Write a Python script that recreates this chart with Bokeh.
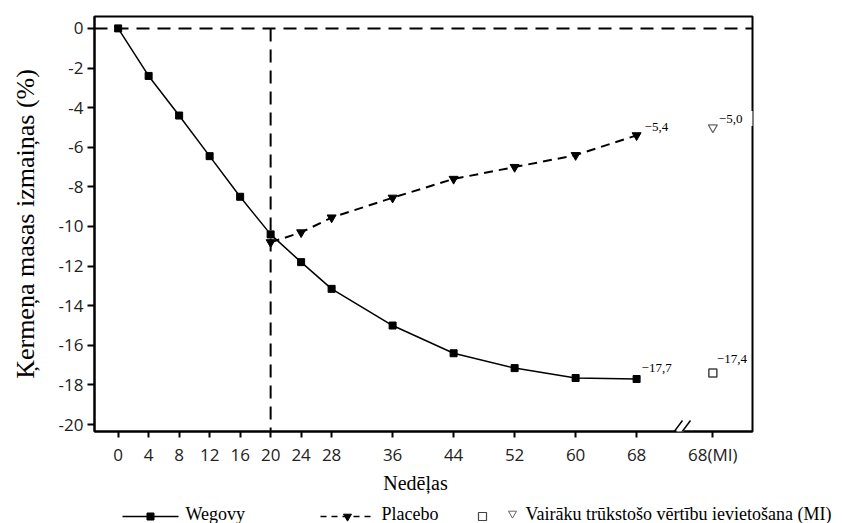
from bokeh.plotting import figure
from bokeh.models import FixedTicker, Label, Arrow, Range1d, Span
from bokeh.layouts import column
from bokeh.embed import file_html
from bokeh.resources import INLINE
from bokeh.core.properties import value

# ---- data ----
weeks = [0, 4, 8, 12, 16, 20, 24, 28, 36, 44, 52, 60, 68]
wegovy = [0, -2.4, -4.4, -6.45, -8.5, -10.4, -11.8, -13.15, -15.0, -16.4, -17.15, -17.65, -17.7]
placebo_weeks = [20, 24, 28, 36, 44, 52, 60, 68]
placebo = [-10.8, -10.3, -9.55, -8.55, -7.6, -7.0, -6.4, -5.4]
mi_pos = 78            # x position of the "68 (MI)" column
mi_wegovy = -17.4
mi_placebo = -5.0
x_ticks = [0, 4, 8, 12, 16, 20, 24, 28, 36, 44, 52, 60, 68, 78]
x_tick_labels = ["0", "4", "8", "12", "16", "20", "24", "28", "36", "44", "52", "60", "68", "68(MI)"]
y_ticks = [0, -2, -4, -6, -8, -10, -12, -14, -16, -18, -20]
switch_week = 20
x_title = "Nedēļas"
y_title = "Ķermeņa masas izmaiņas (%)"
legend_labels = ["Wegovy", "Placebo", "Vairāku trūkstošo vērtību ievietošana (MI)"]

SERIF = "Liberation Serif"
SANS = "Open Sans"

def fmt(v):
    return "\u2212" + ("%.1f" % abs(v)).replace(".", ",")

x_lo, x_hi = -3.1, 83.2
y_lo, y_hi = -20.35, 0.6
FL, FR, FT, FB = 94, 752, 16, 431   # frame box in pixels
H_MAIN = 472

def px2x(px):
    return x_lo + (px - FL) * (x_hi - x_lo) / (FR - FL)

def py2y(py):
    return y_lo - (py - FB) * (y_hi - y_lo) / (FB - FT)

p = figure(width=842, height=H_MAIN, x_range=Range1d(x_lo, x_hi), y_range=Range1d(y_lo, y_hi),
           output_backend="svg", toolbar_location=None,
           min_border_left=FL, min_border_right=842 - FR, min_border_top=FT,
           min_border_bottom=H_MAIN - FB)
p.frame_align = False
p.grid.visible = False
p.outline_line_color = "black"
p.outline_line_width = 2
p.background_fill_color = "white"
p.border_fill_color = "white"

# axes
p.xaxis.ticker = FixedTicker(ticks=x_ticks)
p.xaxis.major_label_overrides = dict(zip(x_ticks, x_tick_labels))
p.yaxis.ticker = FixedTicker(ticks=y_ticks)
p.yaxis.major_label_overrides = {t: str(t) for t in y_ticks}
for ax in (p.xaxis, p.yaxis):
    ax.axis_line_width = 2
    ax.axis_line_color = "black"
    ax.major_tick_line_width = 2
    ax.major_tick_in = 0
    ax.minor_tick_line_color = None
    ax.major_label_text_font = SANS
    ax.major_label_text_font_size = "17px"
    ax.major_label_text_color = "#222222"
    ax.axis_label_text_font = SERIF
    ax.axis_label_text_font_style = "normal"
    ax.axis_label_text_color = "black"
p.xaxis.major_tick_out = 6
p.yaxis.major_tick_out = 7
p.xaxis.major_label_standoff = 5
p.yaxis.major_label_standoff = 4
p.yaxis.axis_label = y_title
p.yaxis.axis_label_text_font_size = "26px"
p.yaxis.axis_label_standoff = 16

# reference lines
p.add_layout(Span(location=0, dimension="width", line_color="black", line_width=2, line_dash="13 8"))
p.line([switch_week, switch_week], [0, y_lo], line_color="black", line_width=2, line_dash="13 8")

# series
p.line(weeks, wegovy, line_color="black", line_width=1.5)
p.scatter(weeks, wegovy, marker="square", size=7, color="black")
p.line(placebo_weeks, placebo, line_color="black", line_width=2, line_dash="9 6")
p.scatter(placebo_weeks, placebo, marker="inverted_triangle", size=9, color="black")
p.scatter([mi_pos], [mi_wegovy], marker="square", size=8, fill_color="white",
          line_color="#444444", line_width=1.5)
p.scatter([mi_pos], [mi_placebo], marker="inverted_triangle", size=9, fill_color="white",
          line_color="#666666", line_width=1.2)

def lab(x, y, txt, dx=0, dy=0, bg=None):
    l = Label(x=x, y=y, text=txt, x_offset=dx, y_offset=dy, text_font=SERIF,
              text_font_size="13px", text_baseline="middle", text_align="left",
              text_color="black", level="overlay")
    if bg:
        l.background_fill_color = bg
    p.add_layout(l)

# value labels
lab(weeks[-1], wegovy[-1], fmt(wegovy[-1]), 5, 11)
lab(mi_pos, mi_wegovy, fmt(mi_wegovy), 4, 14)
lab(placebo_weeks[-1], placebo[-1], fmt(placebo[-1]), 8, 8)
lab(mi_pos, mi_placebo, fmt(mi_placebo) + "    ", 6, 9, bg="white")

# axis break marks
def seg(px0, py0, px1, py1, color="black", width=1.5):
    p.add_layout(Arrow(end=None, x_start=px2x(px0), y_start=py2y(py0), x_end=px2x(px1),
                       y_end=py2y(py1), line_color=color, line_width=width, level="overlay"))

seg(676, FB, 683, FB, color="white", width=4)
seg(667, 440, 682, 420)
seg(675, 440, 690, 420)

# ---- bottom strip: x title + legend (pixel coordinates) ----
LH = 523 - H_MAIN
leg = figure(width=842, height=LH, x_range=Range1d(0, 842), y_range=Range1d(LH, 0),
             x_axis_type=None, y_axis_type=None, output_backend="svg", toolbar_location=None,
             min_border=0, outline_line_color=None)
leg.frame_align = False
leg.grid.visible = False
leg.text([415], [482 - H_MAIN], text=[x_title], text_font=value(SERIF), text_font_size="20px",
         text_baseline="middle", text_align="center", text_color="black")
ly = 516 - H_MAIN
tb = 513 - H_MAIN
leg.line([122, 178], [ly, ly], line_color="black", line_width=1.5)
leg.scatter([150], [ly], marker="square", size=7, color="black")
leg.line([320, 375], [ly, ly], line_color="black", line_width=1.5, line_dash="6 5")
leg.scatter([347], [ly], marker="inverted_triangle", size=8, color="black")
leg.scatter([482], [ly], marker="square", size=8, fill_color="white", line_color="#444444", line_width=1.2)
leg.scatter([512], [ly - 3], marker="inverted_triangle", size=8, fill_color="white",
            line_color="#666666", line_width=1)
leg.text([185, 381, 525], [tb, tb, tb], text=legend_labels,
         text_font=value(SERIF), text_font_size="18px", text_baseline="middle",
         text_align="left", text_color="black")

layout = column(p, leg, spacing=0)
open("out.html", "w").write(file_html(layout, INLINE))
